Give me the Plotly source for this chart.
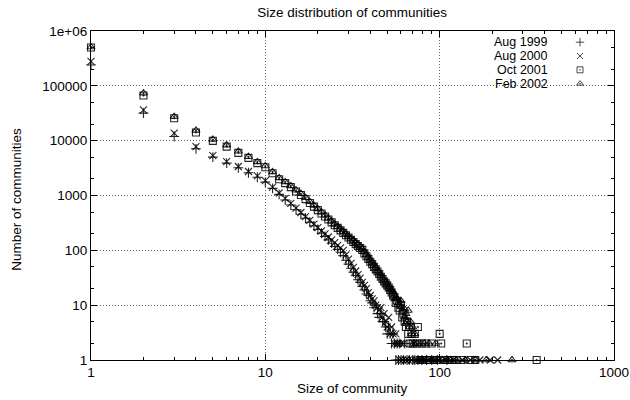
import plotly.graph_objects as go

# ---------------- data ----------------
series_names = ["Aug 1999", "Aug 2000", "Oct 2001", "Feb 2002"]

sizes_aug1999 = list(range(1, 61)) + [62, 63, 65, 67, 70, 72, 75, 79, 84, 90, 97, 110]
counts_aug1999 = [240000, 31800, 11900, 7100, 5000, 3900, 3200, 2600, 2150, 1750,
                  1350, 1050, 830, 670, 550, 455, 385, 325, 280, 240,
                  205, 180, 155, 135, 118, 104, 92, 80, 66, 56,
                  47, 40, 35, 29, 26, 22, 19, 16, 15, 12,
                  11, 9, 10, 7, 6, 7, 5, 5, 4, 3,
                  4, 3, 2, 3, 2, 1, 2, 1, 2, 1,
                  1, 2, 1, 1, 1, 1, 1, 1, 1, 1, 1, 1]

sizes_aug2000 = list(range(1, 63)) + [64, 66, 69, 71, 74, 78, 81, 86, 92, 99, 108, 120, 135, 150, 170, 195, 215]
counts_aug2000 = [280000, 36500, 13700, 7800, 5350, 4150, 3380, 2740, 2280, 1860,
                  1420, 1110, 884, 716, 589, 490, 413, 351, 301, 260,
                  226, 199, 175, 155, 138, 123, 111, 100, 83, 69,
                  58, 49, 42, 36, 31, 26, 23, 20, 17, 15,
                  13, 12, 10, 9, 8, 9, 6, 7, 5, 4,
                  6, 3, 4, 3, 2, 3, 2, 2, 1, 2,
                  1, 2,
                  1, 1, 1, 2, 1, 1, 1, 1, 1, 1, 1, 1, 1, 1, 1, 1, 1]

sizes_oct2001 = list(range(1, 70)) + [70, 72, 74, 75, 77, 79, 80, 83, 85, 88, 90, 93, 96, 100, 102, 105,
                                      112, 118, 125, 133, 143, 150, 160, 360]
counts_oct2001 = [500000, 66500, 25700, 14100, 9900, 7800, 6000, 4850, 3890, 3280,
                  2550, 1980, 1680, 1420, 1180, 1020, 859, 729, 626, 540,
                  471, 413, 364, 323, 287, 257, 231, 208, 188, 171,
                  156, 142, 130, 120, 110, 102, 88, 78, 70, 62,
                  56, 50, 45, 41, 37, 33, 30, 27, 25, 23,
                  21, 19, 17, 15, 14, 11, 12, 9, 8, 10,
                  6, 7, 5, 4, 5, 3, 4, 2, 3,
                  2, 3, 2, 4, 1, 2, 1, 2, 1, 1, 2, 1, 1, 3, 2, 1,
                  1, 1, 1, 1, 2, 1, 1, 1]

sizes_feb2002 = list(range(1, 73)) + [74, 76, 78, 80, 82, 85, 87, 89, 92, 95, 98, 104, 110, 116, 124,
                                      140, 160, 185, 260]
counts_feb2002 = [510000, 73600, 27500, 15400, 10500, 8300, 6400, 5100, 4100, 3450,
                  2700, 2100, 1770, 1500, 1250, 1080, 910, 770, 660, 570,
                  495, 435, 385, 340, 300, 270, 243, 219, 198, 180,
                  164, 150, 137, 126, 115, 106, 93, 83, 74, 66,
                  59, 53, 48, 43, 39, 35, 32, 29, 26, 24,
                  22, 20, 19, 17, 15, 14, 13, 11, 10, 12,
                  8, 9, 6, 7, 5, 8, 4, 5, 3, 4,
                  2, 3,
                  2, 1, 2, 1, 2, 1, 2, 1, 1, 2, 1, 1, 1, 1, 1,
                  1, 1, 1, 1]

x_tick_vals = [1, 10, 100, 1000]
x_tick_text = ["1", "10", "100", "1000"]
y_tick_vals = [1, 10, 100, 1000, 10000, 100000, 1000000]
y_tick_text = ["1", "10", "100", "1000", "10000", "100000", "1e+06"]

# ---------------- styling ----------------
FONT = "'Liberation Sans', Arial, Helvetica, sans-serif"
FS = 13.5
symbols = ["cross-thin-open", "x-thin-open", "square-open-dot", "triangle-up-open-dot"]
msizes = [7, 7, 7, 7]

all_x = [sizes_aug1999, sizes_aug2000, sizes_oct2001, sizes_feb2002]
all_y = [counts_aug1999, counts_aug2000, counts_oct2001, counts_feb2002]

fig = go.Figure()
for name, xs, ys, sym, ms in zip(series_names, all_x, all_y, symbols, msizes):
    fig.add_trace(go.Scatter(
        x=xs, y=ys, mode="markers", name=name, showlegend=False,
        cliponaxis=False,
        marker=dict(symbol=sym, size=ms, color="rgba(0,0,0,0.85)",
                    line=dict(color="rgba(0,0,0,0.85)", width=1.1)),
    ))

# custom gnuplot-like key: text right-justified, sample on the right
key_text_x = 0.876
key_sym_x = 0.935
key_rows = [0.966, 0.924, 0.882, 0.840]
fig.add_trace(go.Scatter(
    x=[key_sym_x] * 4, y=key_rows, xaxis="x2", yaxis="y2", mode="markers",
    showlegend=False, hoverinfo="skip", cliponaxis=False,
    marker=dict(symbol=symbols, size=[6, 6, 6, 6], color="black",
                line=dict(color="black", width=1)),
))

annotations = []
for name, yy in zip(series_names, key_rows):
    annotations.append(dict(x=key_text_x, y=yy, xref="paper", yref="paper",
                            text=name, showarrow=False, xanchor="right", yanchor="middle",
                            borderpad=0,
                            font=dict(family=FONT, size=12.5, color="black")))

annotations.append(dict(x=-0.1415, y=0.49, xref="paper", yref="paper",
                        text="Number of communities", textangle=-90, showarrow=False,
                        xanchor="center", yanchor="middle",
                        font=dict(family=FONT, size=FS, color="black")))
annotations.append(dict(x=0.5, y=-0.088, xref="paper", yref="paper",
                        text="Size of community", showarrow=False,
                        xanchor="center", yanchor="middle",
                        font=dict(family=FONT, size=FS, color="black")))

axis_common = dict(
    type="log", showline=True, linecolor="black", linewidth=1.2, mirror="allticks",
    ticks="inside", ticklen=6, tickwidth=1, tickcolor="black",
    showgrid=True, gridcolor="#666", griddash="1px,2px", gridwidth=1,
    zeroline=False, automargin=False,
    tickfont=dict(family=FONT, size=FS, color="black"),
)

fig.update_layout(
    width=630, height=400,
    margin=dict(l=91, r=16, t=31, b=40),
    paper_bgcolor="white", plot_bgcolor="white",
    showlegend=False,
    title=dict(text="Size distribution of communities", x=0.559, xanchor="center",
               y=0.969, yanchor="middle",
               font=dict(family=FONT, size=FS, color="black")),
    xaxis=dict(axis_common, range=[0, 3], tickvals=x_tick_vals, ticktext=x_tick_text,
               minor=dict(ticks="inside", ticklen=3, tickcolor="black", showgrid=False,
                          tickvals=[2, 3, 4, 5, 6, 7, 8, 9, 20, 30, 40, 50, 60, 70, 80, 90,
                                    200, 300, 400, 500, 600, 700, 800, 900])),
    yaxis=dict(axis_common, range=[0, 6], tickvals=y_tick_vals, ticktext=y_tick_text,
               minor=dict(ticks="inside", ticklen=3, tickcolor="black", showgrid=False,
                          tickvals=[2, 5, 20, 50, 200, 500, 2000, 5000, 20000, 50000,
                                    200000, 500000])),
    xaxis2=dict(range=[0, 1], overlaying="x", visible=False, fixedrange=True),
    yaxis2=dict(range=[0, 1], overlaying="y", visible=False, fixedrange=True),
    annotations=annotations,
    shapes=[dict(type="rect", xref="paper", yref="paper", x0=0.75, x1=0.987,
                 y0=0.815, y1=0.99, fillcolor="white", line=dict(width=0), layer="between")],
)

# remove the browser's default 8px body margin so the 630x400 figure fills the window
fig.write_html("out.html", config={"displayModeBar": False},
               post_script="document.body.style.margin='0';document.body.style.overflow='hidden';")
